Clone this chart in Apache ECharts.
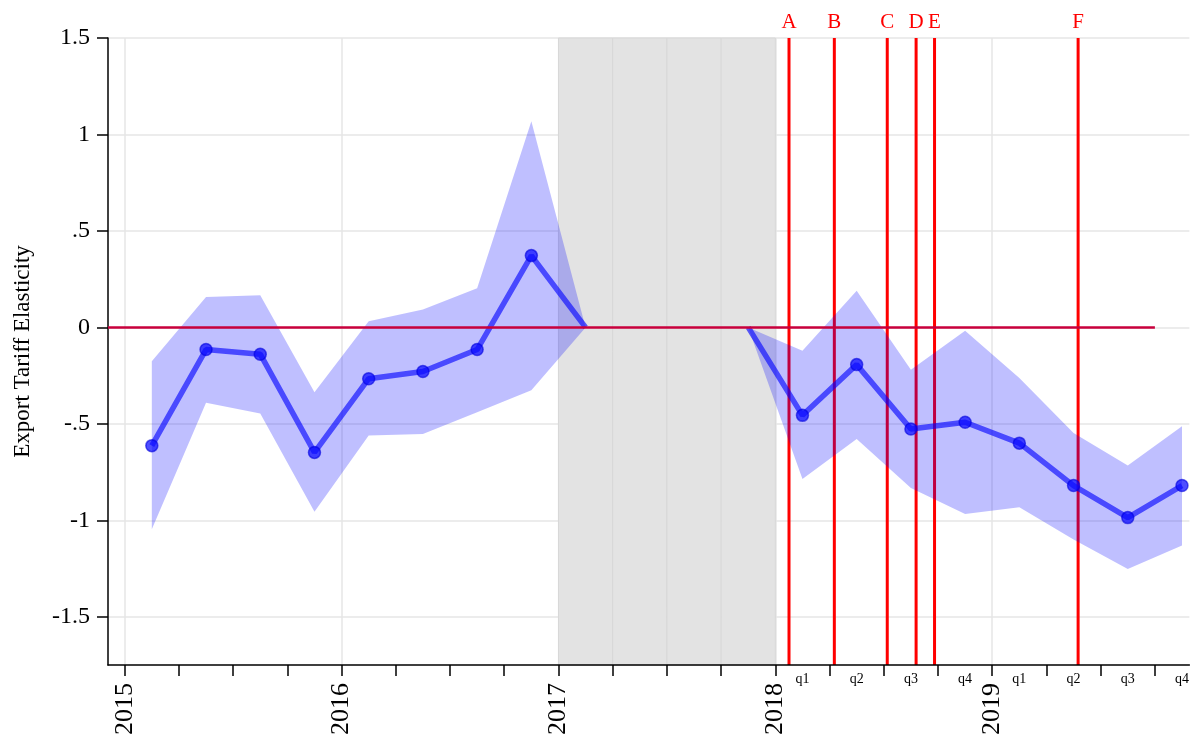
<!DOCTYPE html>
<html>
<head>
<meta charset="utf-8">
<script src="https://cdn.jsdelivr.net/npm/echarts@6/dist/echarts.min.js"></script>
<style>
  html, body { margin: 0; padding: 0; background: #ffffff; }
  #chart { width: 1192px; height: 738px; }
</style>
</head>
<body>
<div id="chart"></div>
<script>
// Quarterly export tariff elasticity estimates with confidence band
const periods = [
  '2015q1', '2015q2', '2015q3', '2015q4',
  '2016q1', '2016q2', '2016q3', '2016q4',
  '2017q1', '2017q2', '2017q3', '2017q4',
  '2018q1', '2018q2', '2018q3', '2018q4',
  '2019q1', '2019q2', '2019q3', '2019q4'
];
const estimate = [
  -0.613, -0.115, -0.139, -0.648,
  -0.266, -0.229, -0.115, 0.372,
  0, null, null, 0,
  -0.456, -0.193, -0.527, -0.492,
  -0.600, -0.820, -0.986, -0.820
];
const upper = [
  -0.175, 0.158, 0.167, -0.336,
  0.032, 0.093, 0.203, 1.068,
  0, null, null, 0,
  -0.121, 0.190, -0.219, -0.018,
  -0.262, -0.547, -0.716, -0.513
];
const lower = [
  -1.046, -0.391, -0.447, -0.955,
  -0.560, -0.552, -0.440, -0.326,
  0, null, null, 0,
  -0.786, -0.578, -0.832, -0.967,
  -0.932, -1.100, -1.252, -1.131
];
// Quarters that anchor the excluded year: drawn without a marker
const unmarked = ['2017q1', '2017q4'];

// Tariff events (decimal year) and their letters
const eventLabels = ['A', 'B', 'C', 'D', 'E', 'F'];
const eventDates = [2018.063, 2018.272, 2018.516, 2018.649, 2018.734, 2019.396];

// Axis ticks
const yearTicks = [2015, 2016, 2017, 2018, 2019];
const quarterTicks = [
  2015, 2015.25, 2015.5, 2015.75, 2016, 2016.25, 2016.5, 2016.75,
  2017, 2017.25, 2017.5, 2017.75, 2018, 2018.25, 2018.5, 2018.75,
  2019, 2019.25, 2019.5, 2019.75
];
const quarterLabelYears = [2018, 2019];
const yTicks = [-1.5, -1, -0.5, 0, 0.5, 1, 1.5];
const xRange = [2014.923, 2019.909];
const yRange = [-1.75, 1.5];

// Excluded year, shaded quarter by quarter
const shadedSpans = [[2017, 2017.25], [2017.25, 2017.5], [2017.5, 2017.75], [2017.75, 2018]];
// Zero reference line: start and end (decimal year)
const zeroLineSpan = [2014.923, 2019.75];

const SERIF = "'Liberation Serif', 'DejaVu Serif', serif";

function periodX(p) {
  const yr = Number(p.slice(0, 4));
  const q = Number(p.slice(5));
  return yr + (q - 0.5) / 4;
}
const xs = periods.map(periodX);
const quarterMids = xs.filter(x => quarterLabelYears.indexOf(Math.floor(x)) >= 0);

// Contiguous runs of the confidence band (broken where values are missing)
const bandRuns = [];
let run = [];
periods.forEach((p, i) => {
  if (upper[i] === null || lower[i] === null) {
    if (run.length) bandRuns.push(run);
    run = [];
  } else {
    run.push(i);
  }
});
if (run.length) bandRuns.push(run);

function yLabel(v) {
  if (v === 0) return '0';
  return String(v).replace(/^(-?)0\./, '$1.');
}

const chart = echarts.init(document.getElementById('chart'), null, { renderer: 'canvas' });

chart.setOption({
  animation: false,
  backgroundColor: '#ffffff',
  grid: { left: 108, right: 0, top: 38, bottom: 73, containLabel: false },
  xAxis: [
    {
      type: 'value',
      min: xRange[0], max: xRange[1],
      position: 'bottom',
      z: 10,
      axisLine: { show: true, onZero: false, lineStyle: { color: '#000', width: 1.5 } },
      axisTick: { show: true, length: 11, lineStyle: { color: '#000', width: 1.5 }, customValues: quarterTicks },
      axisLabel: {
        customValues: yearTicks, rotate: 90, margin: 18,
        color: '#000', fontSize: 26, fontFamily: SERIF,
        formatter: v => String(Math.round(v))
      },
      splitLine: { show: false }
    },
    {
      type: 'value',
      min: xRange[0], max: xRange[1],
      position: 'bottom',
      z: 0,
      axisLine: { show: false },
      axisTick: { show: false, customValues: yearTicks },
      axisLabel: {
        customValues: quarterMids, margin: 7,
        color: '#000', fontSize: 14, fontFamily: SERIF,
        formatter: v => 'q' + Math.round((v - Math.floor(v)) * 4 + 0.5)
      },
      splitLine: { show: true, lineStyle: { color: '#e6e6e6', width: 1.5 } }
    }
  ],
  yAxis: {
    type: 'value',
    min: yRange[0], max: yRange[1],
    z: 0,
    name: 'Export Tariff Elasticity',
    nameLocation: 'middle',
    nameGap: 74,
    nameTextStyle: { color: '#000', fontSize: 23, fontFamily: SERIF },
    axisLine: { show: true, onZero: false, lineStyle: { color: '#000', width: 1.5 } },
    axisTick: { show: true, length: 11, lineStyle: { color: '#000', width: 1.5 }, customValues: yTicks },
    axisLabel: { customValues: yTicks, margin: 18, color: '#000', fontSize: 24, fontFamily: SERIF, formatter: yLabel },
    splitLine: { show: true, lineStyle: { color: '#e6e6e6', width: 1.5 } }
  },
  series: [
    {
      name: 'shade',
      type: 'line',
      data: [],
      silent: true,
      markArea: {
        silent: true,
        itemStyle: { color: '#e3e3e3', borderColor: '#d8d8d8', borderWidth: 1 },
        data: shadedSpans.map(s => [{ xAxis: s[0] }, { xAxis: s[1] }])
      }
    },
    {
      // Event lines run the full plot height, letters sit above the plot
      name: 'events',
      type: 'custom',
      z: 5,
      silent: true,
      clip: false,
      data: eventDates.map((d, i) => [d, yRange[1], i]),
      encode: { x: 0, y: 1 },
      renderItem: function (params, api) {
        const d = api.value(0);
        const top = api.coord([d, yRange[1]]);
        const bottom = api.coord([d, yRange[0]]);
        return {
          type: 'group',
          children: [
            {
              type: 'line',
              shape: { x1: top[0], y1: top[1], x2: bottom[0], y2: bottom[1] },
              style: { stroke: '#ff0000', lineWidth: 3 }
            },
            {
              type: 'text',
              style: {
                text: eventLabels[api.value(2)],
                x: top[0], y: top[1] - 5,
                align: 'center', verticalAlign: 'bottom',
                fill: '#ff0000', fontSize: 21, fontFamily: SERIF
              }
            }
          ]
        };
      }
    },
    {
      name: 'band',
      type: 'custom',
      z: 6,
      silent: true,
      clip: true,
      data: bandRuns.map((r, k) => [xs[r[0]], lower[r[0]], k]),
      encode: { x: 0, y: 1 },
      renderItem: function (params, api) {
        const r = bandRuns[api.value(2)];
        const top = r.map(i => api.coord([xs[i], upper[i]]));
        const bottom = r.slice().reverse().map(i => api.coord([xs[i], lower[i]]));
        return {
          type: 'polygon',
          shape: { points: top.concat(bottom) },
          style: { fill: 'rgba(0,0,255,0.25)', stroke: null }
        };
      }
    },
    {
      name: 'estimate',
      type: 'line',
      z: 7,
      connectNulls: false,
      symbol: 'circle',
      symbolSize: 12,
      lineStyle: { color: 'rgba(0,0,255,0.62)', width: 5.5 },
      itemStyle: { color: 'rgba(10,10,255,0.72)', borderColor: 'rgba(0,0,220,0.6)', borderWidth: 1.5 },
      data: periods.map((p, i) => {
        const item = { value: [xs[i], estimate[i]] };
        if (unmarked.indexOf(p) >= 0) item.symbol = 'none';
        return item;
      })
    },
    {
      name: 'zero',
      type: 'line',
      z: 8,
      silent: true,
      symbol: 'none',
      lineStyle: { color: '#c8003c', width: 2.5 },
      data: zeroLineSpan.map(x => [x, 0])
    }
  ]
});
</script>
</body>
</html>
